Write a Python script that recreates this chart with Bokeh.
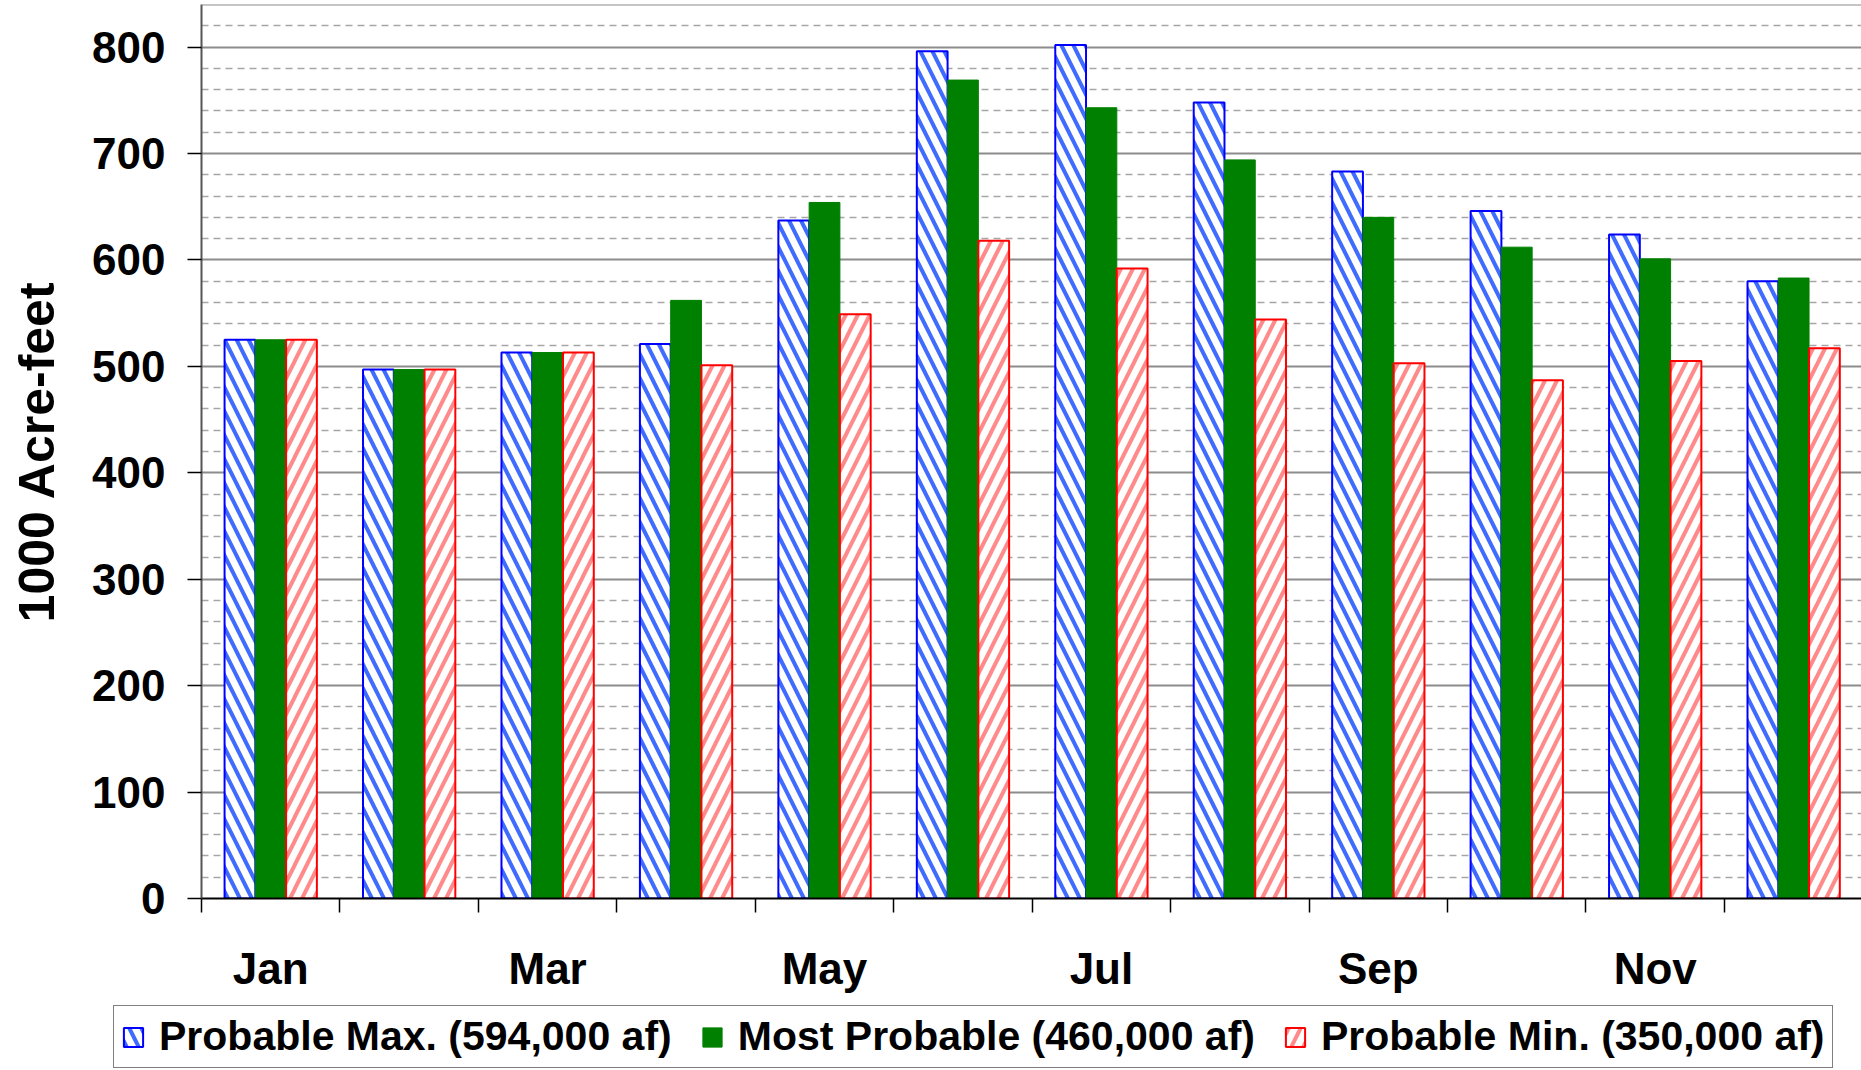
from bokeh.plotting import figure
from bokeh.layouts import column
from bokeh.models import ColumnDataSource, FixedTicker, Range1d, Legend, LegendItem, Span
from bokeh.transform import dodge
from bokeh.embed import file_html
from bokeh.resources import INLINE

# ---- data ----
months = ["Jan", "Feb", "Mar", "Apr", "May", "Jun", "Jul", "Aug", "Sep", "Oct", "Nov", "Dec"]
prob_max = [525, 497, 513, 521, 637, 796, 802, 748, 683, 646, 624, 580]
most_prob = [525, 497, 513, 562, 654, 769, 743, 694, 640, 612, 601, 583]
prob_min = [525, 497, 513, 501, 549, 618, 592, 544, 503, 487, 505, 517]
series_labels = ["Probable Max. (594,000 af)", "Most Probable (460,000 af)", "Probable Min. (350,000 af)"]
labeled_months = ["Jan", "Mar", "May", "Jul", "Sep", "Nov"]
y_ticks = [0, 100, 200, 300, 400, 500, 600, 700, 800]
y_minor = [v for v in range(20, 840, 20) if v % 100 != 0]
y_top = 840
y_title = "1000 Acre-feet"

FONT = "Liberation Sans"
idx = list(range(len(months)))
bw = 2.0 / 9.0

src = ColumnDataSource(dict(x=idx, pmax=prob_max, mp=most_prob, pmin=prob_min))

styles = [
    dict(fill_color="white", line_color="#0000FF", line_width=2,
         hatch_pattern="left_diagonal_line", hatch_color="#3F6BFF", hatch_scale=24, hatch_weight=4),
    dict(fill_color="#008000", line_color="#008000", line_width=1),
    dict(fill_color="white", line_color="#FF0000", line_width=2,
         hatch_pattern="right_diagonal_line", hatch_color="#FF8A8A", hatch_scale=24, hatch_weight=4),
]
cols = ["pmax", "mp", "pmin"]
offsets = [-bw, 0, bw]

H1 = 1000
p = figure(width=1861, height=H1,
           x_range=Range1d(-0.5, 11.49), y_range=Range1d(0, y_top),
           output_backend="svg", toolbar_location=None, frame_align=False,
           min_border_left=201, min_border_right=0, min_border_top=4, min_border_bottom=H1 - 898)
p.outline_line_color = None
p.background_fill_color = "white"
p.border_fill_color = "white"

for c, off, st in zip(cols, offsets, styles):
    p.vbar(x=dodge("x", off, range=p.x_range), top=c, width=bw, source=src, **st)

# top frame line
p.add_layout(Span(location=y_top, dimension="width", line_color="#8C8C8C", line_width=2))

# grid
p.xgrid.visible = False
p.ygrid.ticker = FixedTicker(ticks=y_ticks, minor_ticks=y_minor)
p.ygrid.grid_line_color = "#8C8C8C"
p.ygrid.grid_line_width = 2
p.ygrid.minor_grid_line_color = "#A6A6A6"
p.ygrid.minor_grid_line_width = 1.5
p.ygrid.minor_grid_line_dash = "7 5"

# y axis
ya = p.yaxis[0]
ya.ticker = FixedTicker(ticks=y_ticks)
ya.major_label_text_font = FONT
ya.major_label_text_font_style = "bold"
ya.major_label_text_font_size = "44px"
ya.major_label_text_color = "black"
ya.major_label_standoff = 22
ya.major_tick_out = 14
ya.major_tick_in = 0
ya.major_tick_line_color = "black"
ya.major_tick_line_width = 1.5
ya.minor_tick_line_color = None
ya.axis_line_color = "#555555"
ya.axis_line_width = 2
ya.axis_label = y_title
ya.axis_label_text_font = FONT
ya.axis_label_text_font_style = "bold"
ya.axis_label_text_font_size = "50px"
ya.axis_label_text_color = "black"
ya.axis_label_standoff = 24

# x axis
xa = p.xaxis[0]
xa.ticker = FixedTicker(ticks=[months.index(m) for m in labeled_months],
                        minor_ticks=[i - 0.5 for i in range(len(months) + 1)])
xa.major_label_overrides = {months.index(m): m for m in labeled_months}
xa.major_label_text_font = FONT
xa.major_label_text_font_style = "bold"
xa.major_label_text_font_size = "44px"
xa.major_label_text_color = "black"
xa.major_label_standoff = 31
xa.major_tick_line_color = None
xa.major_tick_out = 0
xa.major_tick_in = 0
xa.minor_tick_out = 14
xa.minor_tick_in = 0
xa.minor_tick_line_color = "black"
xa.minor_tick_line_width = 1.5
xa.axis_line_color = "black"
xa.axis_line_width = 2

# ---- legend strip (separate figure below, same series styles) ----
leg = figure(width=1861, height=1070 - H1, x_range=Range1d(-0.5, 11.49), y_range=Range1d(0, y_top),
             output_backend="svg", toolbar_location=None, frame_align=False,
             x_axis_location=None, y_axis_location=None, min_border=0)
leg.outline_line_color = None
leg.grid.visible = False
leg.background_fill_color = "white"
leg.border_fill_color = "white"
leg_renderers = []
for c, off, st in zip(cols, offsets, styles):
    leg_renderers.append(leg.vbar(x=dodge("x", off, range=leg.x_range), top=c, width=bw,
                                  source=src, visible=False, **st))

legend = Legend(items=[LegendItem(label=lab, renderers=[r]) for lab, r in zip(series_labels, leg_renderers)],
                orientation="horizontal", location=(113, 2),
                label_text_font=FONT, label_text_font_style="bold", label_text_font_size="41px",
                label_text_color="black",
                glyph_width=24, glyph_height=24, label_standoff=14, spacing=28,
                padding=7, margin=0, border_line_color="black", border_line_width=1.5,
                background_fill_color="white", background_fill_alpha=1.0)
leg.add_layout(legend)

layout = column(p, leg, spacing=0)
open("out.html", "w").write(file_html(layout, INLINE))
